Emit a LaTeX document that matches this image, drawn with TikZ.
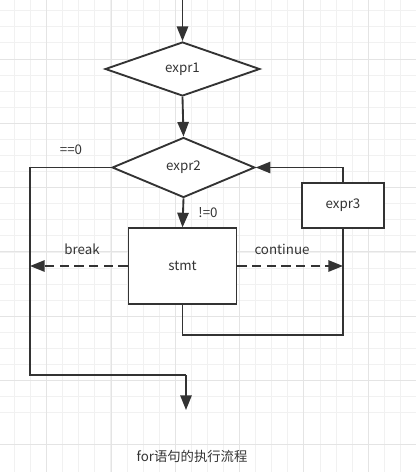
\documentclass[tikz,border=0pt]{standalone}
\usepackage{fontspec}
\setmainfont{Noto Sans CJK SC}
\usetikzlibrary{shapes.geometric,arrows.meta}
\definecolor{ink}{HTML}{333333}
\definecolor{gridminor}{HTML}{F1F1F1}
\definecolor{gridmajor}{HTML}{E4E4E4}
\tikzset{
  line/.style={draw=ink,line width=1.4pt,line join=miter},
  flow/.style={line,-{Triangle[length=11pt,width=8.5pt]}},
  cond/.style={diamond,line,fill=white,inner sep=0pt,text=ink},
  block/.style={rectangle,line,fill=white,inner sep=0pt,text=ink},
  lab/.style={text=ink,inner sep=1pt}
}
\begin{document}
\begin{tikzpicture}[x=0.75pt,y=-0.75pt,font=\fontsize{10}{12}\selectfont]
  \useasboundingbox (0,0) rectangle (416,472);
  % grid paper
  \foreach \i in {0,...,25}{
    \pgfmathsetmacro\gx{14.5+16.08*\i}
    \pgfmathsetmacro\gy{10.8+16.08*\i}
    \draw[gridminor,line width=0.75pt] (\gx,0) -- (\gx,472);
    \draw[gridminor,line width=0.75pt] (0,\gy) -- (416,\gy);
  }
  \foreach \i in {0,...,5}{
    \pgfmathsetmacro\gx{46.7+64.32*\i}
    \draw[gridmajor,line width=0.75pt] (\gx,0) -- (\gx,472);
  }
  \foreach \i in {0,...,6}{
    \pgfmathsetmacro\gy{59+64.32*\i}
    \draw[gridmajor,line width=0.75pt] (0,\gy) -- (416,\gy);
  }
  % nodes
  \node[cond,minimum width=116pt,minimum height=40.5pt] (expr1) at (182.5,69) {expr1};
  \node[cond,minimum width=107pt,minimum height=45pt] (expr2) at (183.5,167.5) {expr2};
  \node[block,minimum width=81pt,minimum height=56.5pt] (stmt) at (182.5,266) {stmt};
  \node[block,minimum width=61.5pt,minimum height=34pt] (expr3) at (343,205.5) {expr3};
  \path
    (182.5,0) coordinate (start)
    (30,375) coordinate (exitL)
    (186,375) coordinate (exitB)
    (186,410) coordinate (stop)
    (182.5,335) coordinate (back);
  % connectors
  \draw[flow] (start) -- (expr1.north);
  \draw[flow] (expr1.south) -- (expr2.north);
  \draw[flow] (expr2.south) -- (stmt.north);
  \draw[line] (expr2.west) -| (exitL) -- (exitB);
  \draw[flow] (exitB) -- (stop);
  \draw[flow,dashed,dash pattern=on 7pt off 4pt] (stmt.west) -- (stmt.west -| exitL);
  \draw[flow,dashed,dash pattern=on 7pt off 4pt] (stmt.east) -- (stmt.east -| expr3);
  \draw[line] (stmt.south) -- (back) -| (expr3.south);
  \draw[flow] (expr3.north) |- (expr2.east);
  % labels
  \node[lab] (eq0) at (71,150) {==0};
  \node[lab] (ne0) at (208,213) {!=0};
  \node[lab] (brk) at (82,249) {break};
  \node[lab] (cont) at (282,249) {continue};
  \node[lab] (title) at (192,456) {for语句的执行流程};
\end{tikzpicture}
\end{document}
